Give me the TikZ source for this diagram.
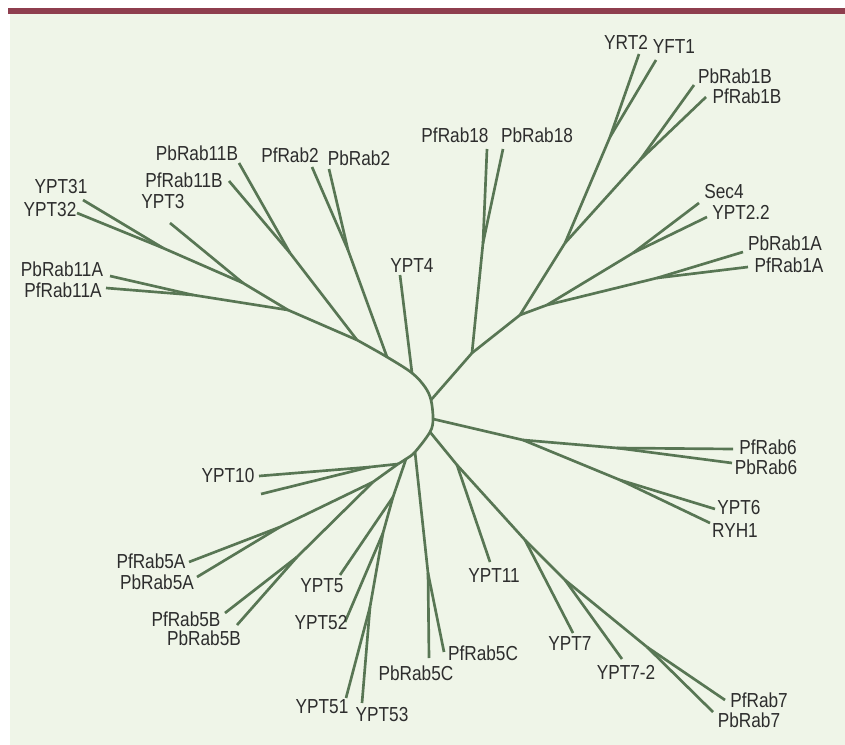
\documentclass[tikz,border=0pt]{standalone}
\usepackage{fontspec}
\setmainfont{Liberation Sans}[FakeStretch=0.85]
\definecolor{bg}{RGB}{239,245,232}
\definecolor{bar}{RGB}{142,62,78}
\definecolor{br}{RGB}{88,118,84}
\definecolor{tx}{RGB}{45,45,45}
\tikzset{
  branch/.style={draw=br, line width=2pt, line join=round},
  lab/.style={text=tx, font=\fontsize{15.2}{17}\selectfont, inner sep=0pt}
}
\begin{document}
\begin{tikzpicture}[x=0.75pt,y=-0.75pt]
\useasboundingbox (0,0) rectangle (845,745);
\fill[white] (0,0) rectangle (845,745);
\fill[bg] (10,14) rectangle (845,745);
\fill[bar] (8,8) rectangle (845,14);

% backbone coordinates
\coordinate (a1) at (163,248);
\coordinate (a2) at (243,283);
\coordinate (a3) at (288,310);
\coordinate (a4) at (357,340);
\coordinate (a5) at (387,357);
\coordinate (a6) at (412,373);
\coordinate (p1) at (425,387);
\coordinate (a7) at (431,400);
\coordinate (a8) at (433,419);
\coordinate (a9) at (430,432);
\coordinate (a10) at (415,452);
\coordinate (a11) at (406,459);
\coordinate (a12) at (398,464);

% internal nodes
\coordinate (r2) at (348,250);
\coordinate (r11B) at (290,253);
\coordinate (r11A) at (193,295);
\coordinate (r18) at (472,353);
\coordinate (r18a) at (483,243);
\coordinate (r1) at (520,315);
\coordinate (r1a) at (547,305);
\coordinate (sec) at (633,253);
\coordinate (r1A) at (657,278);
\coordinate (r1b) at (565,243);
\coordinate (yrt) at (610,137);
\coordinate (r1B) at (640,160);
\coordinate (r6) at (523,440);
\coordinate (r6a) at (617,448);
\coordinate (r6b) at (620,480);
\coordinate (r7a) at (457,465);
\coordinate (r7b) at (525,540);
\coordinate (r7c) at (565,580);
\coordinate (r7d) at (647,647);
\coordinate (c5) at (428,573);
\coordinate (y5a) at (393,497);
\coordinate (y5b) at (383,533);
\coordinate (y5c) at (370,607);
\coordinate (r5) at (373,482);
\coordinate (r5A) at (280,527);
\coordinate (r5B) at (297,557);
\coordinate (y10) at (370,467);

% leaf tips
\coordinate (tYPT31) at (83,200);
\coordinate (tYPT32) at (77,213);
\coordinate (tYPT3) at (170,223);
\coordinate (tPbRab11A) at (110,276);
\coordinate (tPfRab11A) at (106,288);
\coordinate (tPfRab11B) at (229,181);
\coordinate (tPbRab11B) at (239,163);
\coordinate (tPfRab2) at (312,167);
\coordinate (tPbRab2) at (329,169);
\coordinate (tYPT4) at (400,275);
\coordinate (tPfRab18) at (487,149);
\coordinate (tPbRab18) at (503,149);
\coordinate (tYRT2) at (639,54);
\coordinate (tYFT1) at (656,60);
\coordinate (tPbRab1B) at (694,85);
\coordinate (tPfRab1B) at (706,97);
\coordinate (tSec4) at (699,203);
\coordinate (tYPT22) at (707,217);
\coordinate (tPbRab1A) at (743,252);
\coordinate (tPfRab1A) at (748,267);
\coordinate (tPfRab6) at (733,449);
\coordinate (tPbRab6) at (732,463);
\coordinate (tYPT6) at (715,509);
\coordinate (tRYH1) at (710,523);
\coordinate (tYPT11) at (490,562);
\coordinate (tYPT7) at (573,633);
\coordinate (tYPT72) at (622,659);
\coordinate (tPfRab7) at (725,700);
\coordinate (tPbRab7) at (713,712);
\coordinate (tPbRab5C) at (429,658);
\coordinate (tPfRab5C) at (444,652);
\coordinate (tYPT5) at (340,575);
\coordinate (tYPT52) at (345,622);
\coordinate (tYPT51) at (346,698);
\coordinate (tYPT53) at (362,703);
\coordinate (tYPT10) at (259,476);
\coordinate (tX) at (261,494);
\coordinate (tPfRab5A) at (189,562);
\coordinate (tPbRab5A) at (197,577);
\coordinate (tPfRab5B) at (225,613);
\coordinate (tPbRab5B) at (237,625);

% backbone
\draw[branch] (a1) -- (a2) -- (a3) -- (a4);
\draw[branch] plot[smooth, tension=0.55] coordinates {(a4) (a5) (a6) (p1) (a7) (a8) (a9) (a10) (a11) (a12)};

% upper left
\draw[branch] (a1) -- (tYPT31);
\draw[branch] (a1) -- (tYPT32);
\draw[branch] (a2) -- (tYPT3);
\draw[branch] (a3) -- (r11A);
\draw[branch] (r11A) -- (tPbRab11A);
\draw[branch] (r11A) -- (tPfRab11A);
\draw[branch] (a4) -- (r11B);
\draw[branch] (r11B) -- (tPfRab11B);
\draw[branch] (r11B) -- (tPbRab11B);
\draw[branch] (a5) -- (r2);
\draw[branch] (r2) -- (tPfRab2);
\draw[branch] (r2) -- (tPbRab2);
\draw[branch] (a6) -- (tYPT4);

% upper right
\draw[branch] (a7) -- (r18) -- (r1);
\draw[branch] (r18) -- (r18a);
\draw[branch] (r18a) -- (tPfRab18);
\draw[branch] (r18a) -- (tPbRab18);
\draw[branch] (r1) -- (r1a);
\draw[branch] (r1a) -- (sec);
\draw[branch] (sec) -- (tSec4);
\draw[branch] (sec) -- (tYPT22);
\draw[branch] (r1a) -- (r1A);
\draw[branch] (r1A) -- (tPbRab1A);
\draw[branch] (r1A) -- (tPfRab1A);
\draw[branch] (r1) -- (r1b);
\draw[branch] (r1b) -- (yrt);
\draw[branch] (yrt) -- (tYRT2);
\draw[branch] (yrt) -- (tYFT1);
\draw[branch] (r1b) -- (r1B);
\draw[branch] (r1B) -- (tPbRab1B);
\draw[branch] (r1B) -- (tPfRab1B);

% right
\draw[branch] (a8) -- (r6);
\draw[branch] (r6) -- (r6a);
\draw[branch] (r6a) -- (tPfRab6);
\draw[branch] (r6a) -- (tPbRab6);
\draw[branch] (r6) -- (r6b);
\draw[branch] (r6b) -- (tYPT6);
\draw[branch] (r6b) -- (tRYH1);

% lower right
\draw[branch] (a9) -- (r7a) -- (r7b) -- (r7c) -- (r7d);
\draw[branch] (r7a) -- (tYPT11);
\draw[branch] (r7b) -- (tYPT7);
\draw[branch] (r7c) -- (tYPT72);
\draw[branch] (r7d) -- (tPfRab7);
\draw[branch] (r7d) -- (tPbRab7);

% lower
\draw[branch] (a10) -- (c5);
\draw[branch] (c5) -- (tPbRab5C);
\draw[branch] (c5) -- (tPfRab5C);
\draw[branch] (a11) -- (y5a) -- (y5b) -- (y5c);
\draw[branch] (y5a) -- (tYPT5);
\draw[branch] (y5b) -- (tYPT52);
\draw[branch] (y5c) -- (tYPT51);
\draw[branch] (y5c) -- (tYPT53);
\draw[branch] (a12) -- (y10) -- (tYPT10);
\draw[branch] (y10) -- (tX);
\draw[branch] (a12) -- (r5);
\draw[branch] (r5) -- (r5A);
\draw[branch] (r5A) -- (tPfRab5A);
\draw[branch] (r5A) -- (tPbRab5A);
\draw[branch] (r5) -- (r5B);
\draw[branch] (r5B) -- (tPfRab5B);
\draw[branch] (r5B) -- (tPbRab5B);

% labels
\node[lab] (lYRT2) at (626,42) {YRT2};
\node[lab] (lYFT1) at (674,47) {YFT1};
\node[lab] (lPbRab1B) at (735,76) {PbRab1B};
\node[lab] (lPfRab1B) at (747,96) {PfRab1B};
\node[lab] (lPfRab18) at (455,135) {PfRab18};
\node[lab] (lPbRab18) at (537,135) {PbRab18};
\node[lab] (lSec4) at (724,192) {Sec4};
\node[lab] (lYPT22) at (741,212) {YPT2.2};
\node[lab] (lPbRab1A) at (785,243) {PbRab1A};
\node[lab] (lPfRab1A) at (789,265) {PfRab1A};
\node[lab] (lYPT4) at (412,266) {YPT4};
\node[lab] (lPbRab11B) at (197,153) {PbRab11B};
\node[lab] (lPfRab2) at (290,155) {PfRab2};
\node[lab] (lPbRab2) at (359,158) {PbRab2};
\node[lab] (lPfRab11B) at (184,180) {PfRab11B};
\node[lab] (lYPT31) at (61,187) {YPT31};
\node[lab] (lYPT32) at (50,210) {YPT32};
\node[lab] (lYPT3) at (163,202) {YPT3};
\node[lab] (lPbRab11A) at (62,269) {PbRab11A};
\node[lab] (lPfRab11A) at (63,290) {PfRab11A};
\node[lab] (lYPT10) at (228,476) {YPT10};
\node[lab] (lPfRab5A) at (151,561) {PfRab5A};
\node[lab] (lPbRab5A) at (157,582) {PbRab5A};
\node[lab] (lPfRab5B) at (186,619) {PfRab5B};
\node[lab] (lPbRab5B) at (204,638) {PbRab5B};
\node[lab] (lYPT5) at (322,586) {YPT5};
\node[lab] (lYPT52) at (321,623) {YPT52};
\node[lab] (lYPT51) at (322,707) {YPT51};
\node[lab] (lYPT53) at (382,715) {YPT53};
\node[lab] (lPbRab5C) at (416,673) {PbRab5C};
\node[lab] (lPfRab5C) at (483,653) {PfRab5C};
\node[lab] (lYPT11) at (494,576) {YPT11};
\node[lab] (lYPT7) at (570,644) {YPT7};
\node[lab] (lYPT72) at (626,672) {YPT7-2};
\node[lab] (lPfRab7) at (759,700) {PfRab7};
\node[lab] (lPbRab7) at (749,720) {PbRab7};
\node[lab] (lPfRab6) at (768,447) {PfRab6};
\node[lab] (lPbRab6) at (766,467) {PbRab6};
\node[lab] (lYPT6) at (739,508) {YPT6};
\node[lab] (lRYH1) at (735,531) {RYH1};
\end{tikzpicture}
\end{document}
